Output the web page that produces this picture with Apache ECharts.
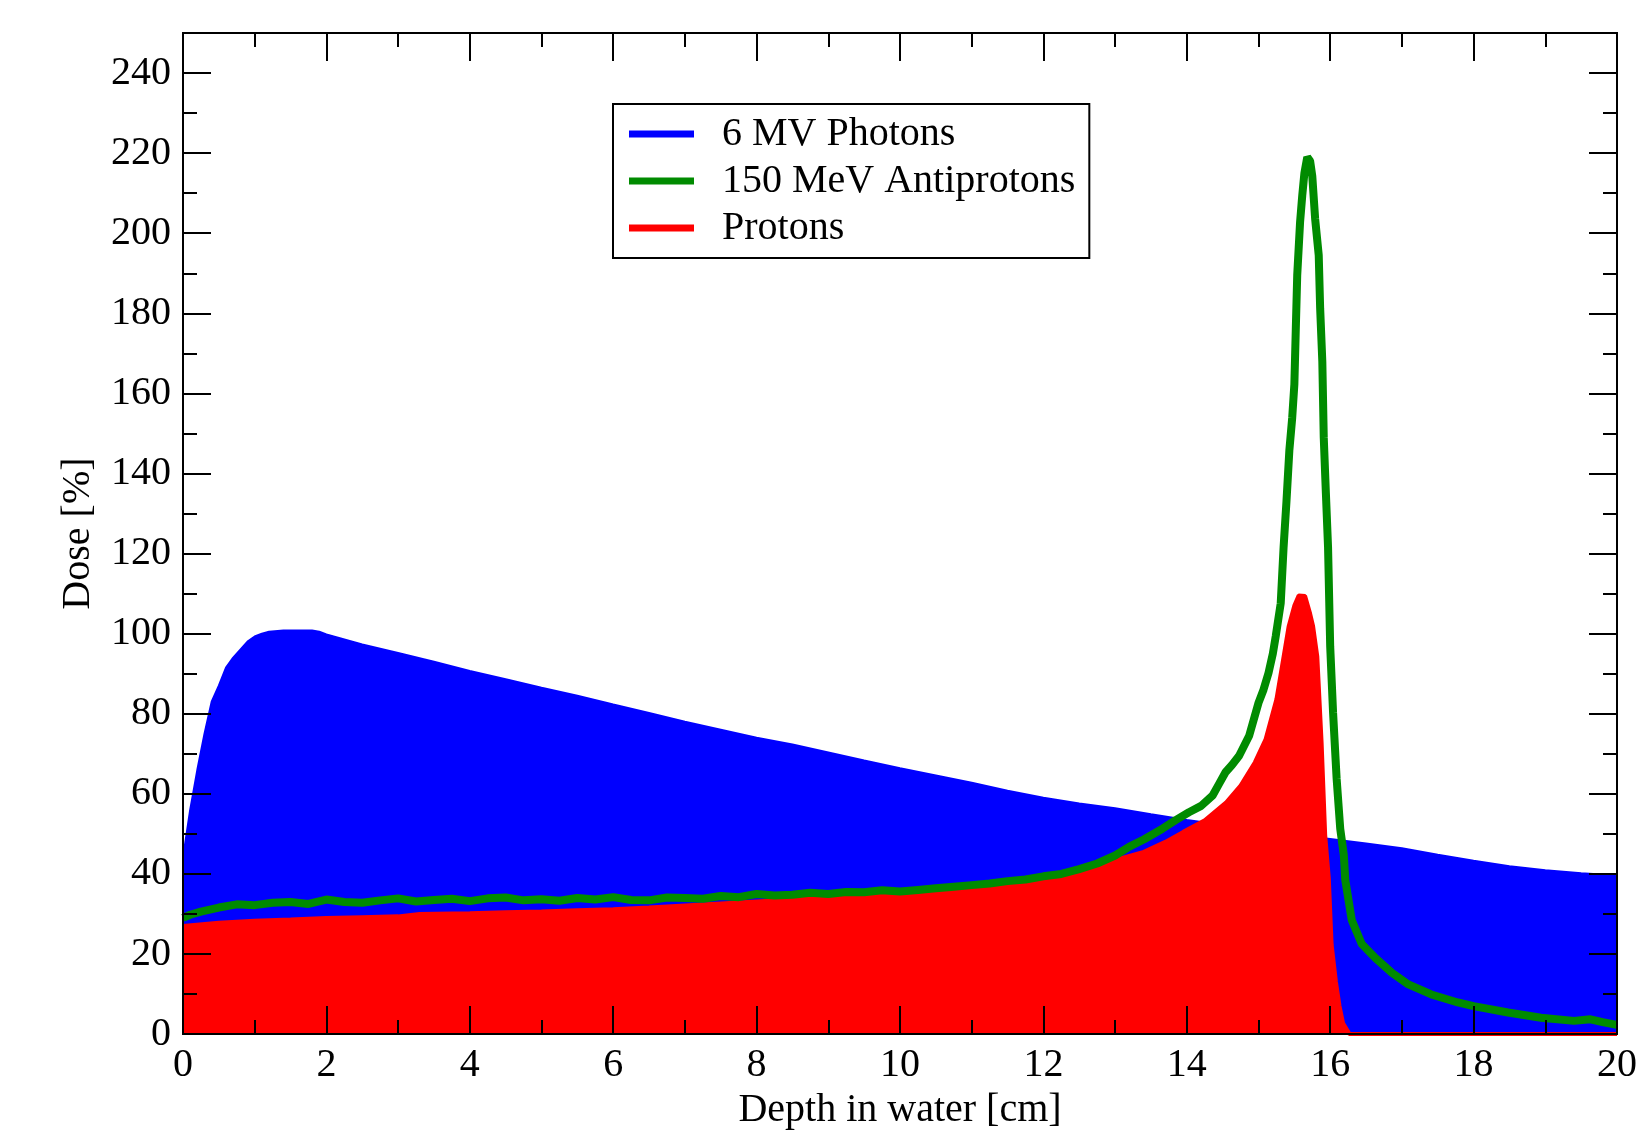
<!DOCTYPE html>
<html>
<head>
<meta charset="utf-8">
<title>Depth dose</title>
<script src="https://cdn.jsdelivr.net/npm/echarts@6/dist/echarts.min.js"></script>
<style>
  html, body { margin: 0; padding: 0; background: #fff; }
  #chart { width: 1640px; height: 1135px; }
</style>
</head>
<body>
<div id="chart"></div>
<script>
// depth in water [cm] and dose [%]
const xPhotons = [0, 0.05, 0.1, 0.2, 0.3, 0.4, 0.5, 0.6, 0.7, 0.8, 0.9, 1.0, 1.1, 1.2, 1.4, 1.6, 1.8, 1.9, 2.0,
  2.5, 3.0, 3.5, 4.0, 4.5, 5.0, 5.5, 6.0, 6.5, 7.0, 7.5, 8.0, 8.5, 9.0, 9.5, 10.0, 10.5, 11.0, 11.5, 12.0,
  12.5, 13.0, 13.5, 14.0, 14.5, 15.0, 15.5, 16.0, 16.5, 17.0, 17.5, 18.0, 18.5, 19.0, 19.5, 20.0];
const photons = [44, 50, 56, 66, 75, 83, 87, 91.5, 94, 96, 98, 99.3, 100, 100.5, 100.8, 100.8, 100.8, 100.5, 99.8,
  97.3, 95.2, 93, 90.7, 88.6, 86.5, 84.5, 82.3, 80.2, 78, 76, 74, 72.3, 70.3, 68.3, 66.4, 64.6, 62.8, 60.8, 59,
  57.6, 56.4, 54.9, 53.5, 52.2, 50.9, 49.7, 48.7, 47.6, 46.4, 44.8, 43.3, 41.9, 40.9, 40.2, 39.6];

const xProtons = [0, 0.5, 1, 1.5, 2, 2.5, 3, 3.3, 4, 4.5, 5, 5.5, 6, 6.5, 7, 7.5, 8, 8.5, 9, 9.5, 10, 10.5, 11,
  11.5, 12, 12.5, 12.75, 13, 13.4, 13.7, 13.95, 14.25, 14.55, 14.75, 14.95, 15.1, 15.25, 15.32, 15.42, 15.5,
  15.56, 15.65, 15.72, 15.76, 15.82, 15.88, 15.93, 15.98, 16.02, 16.08, 16.13, 16.18, 16.27, 20];
const protons = [27, 27.8, 28.3, 28.6, 29, 29.2, 29.4, 30, 30.2, 30.4, 30.6, 30.9, 31.2, 31.6, 32.1, 32.6, 33.1,
  33.6, 34.2, 34.8, 35.4, 36.2, 37, 38, 39.2, 41, 42.2, 43.5, 45.5, 48, 50.5, 53.4, 57.9, 62.1, 67.9, 73.7, 83.6,
  91, 101.8, 107, 109.5, 109.4, 105, 102, 94.3, 72.8, 49.7, 39, 22.3, 13, 7, 2.7, 0, 0];

const xAnti = [0, 0.1, 0.25, 0.5, 0.75, 1.0, 1.25, 1.5, 1.75, 2.0, 2.25, 2.5, 2.75, 3.0, 3.25, 3.5, 3.75, 4.0,
  4.25, 4.5, 4.75, 5.0, 5.25, 5.5, 5.75, 6.0, 6.25, 6.5, 6.75, 7.0, 7.25, 7.5, 7.75, 8.0, 8.25, 8.5, 8.75, 9.0,
  9.25, 9.5, 9.75, 10.0, 10.25, 10.5, 10.75, 11.0, 11.25, 11.5, 11.75, 12.0, 12.25, 12.5, 12.75, 13.0, 13.2,
  13.4, 13.66, 13.85, 14.03, 14.2, 14.36, 14.45, 14.54, 14.63, 14.73, 14.87, 15.0, 15.07, 15.14, 15.2, 15.24,
  15.31, 15.35, 15.39, 15.43, 15.47, 15.5, 15.52, 15.54, 15.58, 15.61, 15.64, 15.68, 15.72, 15.75, 15.79,
  15.84, 15.86, 15.89, 15.91, 15.94, 15.97, 16.0, 16.04, 16.09, 16.14, 16.19, 16.21, 16.3, 16.44, 16.63,
  16.86, 17.09, 17.41, 17.78, 18.0, 18.48, 18.94, 19.4, 19.63, 19.8, 20];
const antiprotons = [29, 29.8, 30.6, 31.6, 32.4, 32.2, 32.8, 33.0, 32.5, 33.6, 33.0, 32.8, 33.4, 33.9, 33.1,
  33.5, 33.8, 33.2, 33.9, 34.1, 33.4, 33.7, 33.3, 34.0, 33.6, 34.2, 33.5, 33.4, 34.1, 34.0, 33.8, 34.5, 34.2,
  35.0, 34.6, 34.8, 35.3, 35.0, 35.5, 35.4, 35.9, 35.6, 36.0, 36.4, 36.8, 37.2, 37.6, 38.2, 38.6, 39.4, 40.0,
  41.2, 42.6, 44.6, 46.8, 48.6, 51.3, 53.5, 55.4, 57.0, 59.6, 62.5, 65.4, 67.2, 69.5, 74.5, 82.7, 86, 90.2, 95,
  99.3, 107.6, 121.6, 133, 145.7, 153.9, 162.2, 176, 189.5, 202.8, 209.4, 215, 219, 218, 214.3, 203.6, 194.5,
  181.2, 168, 149, 135, 121.6, 96.8, 80.3, 63.7, 51.3, 44.7, 38.5, 28.5, 22.5, 19, 15.3, 12.4, 9.9, 7.9, 7.0,
  5.4, 4.1, 3.3, 3.7, 3.0, 2.3];

const seriesNames = ['6 MV Photons', '150 MeV Antiprotons', 'Protons'];

const FONT = '"Liberation Serif", "Times New Roman", serif';
const tickLine = { color: '#000', width: 2 };

function pairs(xs, ys) {
  return xs.map((x, i) => [x, ys[i]]);
}

function xAxisDef(position, withLabels) {
  return {
    type: 'value',
    position: position,
    min: 0,
    max: 20,
    interval: 2,
    z: 10,
    name: withLabels ? 'Depth in water [cm]' : '',
    nameLocation: 'middle',
    nameGap: 50,
    nameTextStyle: { fontFamily: FONT, fontSize: 40, color: '#000' },
    axisLine: { show: true, onZero: false, lineStyle: tickLine },
    axisTick: { show: true, inside: true, length: 28, lineStyle: tickLine },
    minorTick: { show: true, splitNumber: 2, length: 14, lineStyle: tickLine },
    axisLabel: {
      show: withLabels,
      margin: 11,
      fontFamily: FONT,
      fontSize: 40,
      color: '#000'
    },
    splitLine: { show: false }
  };
}

function yAxisDef(position, interval, tickLen, withLabels) {
  return {
    type: 'value',
    position: position,
    min: 0,
    max: 250,
    interval: interval,
    z: 10,
    name: withLabels ? 'Dose [%]' : '',
    nameLocation: 'middle',
    nameGap: 85,
    nameTextStyle: { fontFamily: FONT, fontSize: 40, color: '#000' },
    axisLine: { show: true, onZero: false, lineStyle: tickLine },
    axisTick: { show: true, inside: true, length: tickLen, lineStyle: tickLine },
    axisLabel: {
      show: withLabels,
      showMaxLabel: false,
      margin: 12,
      fontFamily: FONT,
      fontSize: 40,
      color: '#000'
    },
    splitLine: { show: false }
  };
}

const chart = echarts.init(document.getElementById('chart'), null, { renderer: 'canvas' });

const option = {
  animation: false,
  backgroundColor: '#fff',
  grid: { left: 183, right: 17, top: 33, bottom: 95, containLabel: false },
  legend: {
    data: seriesNames,
    orient: 'vertical',
    left: 613,
    top: 104,
    padding: [10, 14, 10, 16],
    itemGap: 7,
    itemWidth: 65,
    itemHeight: 7,
    icon: 'rect',
    borderColor: '#000',
    borderWidth: 2,
    backgroundColor: '#fff',
    selectedMode: false,
    z: 12,
    textStyle: { fontFamily: FONT, fontSize: 40, color: '#000', padding: [0, 0, 0, 23] }
  },
  xAxis: [xAxisDef('bottom', true), xAxisDef('top', false)],
  yAxis: [
    yAxisDef('left', 20, 28, true),
    yAxisDef('left', 10, 14, false),
    yAxisDef('right', 20, 28, false),
    yAxisDef('right', 10, 14, false)
  ],
  series: [
    {
      name: seriesNames[0],
      type: 'line',
      z: 2,
      data: pairs(xPhotons, photons),
      showSymbol: false,
      symbol: 'none',
      color: '#0000ff',
      lineStyle: { color: '#0000ff', width: 2 },
      areaStyle: { color: '#0000ff', opacity: 1 }
    },
    {
      name: seriesNames[2],
      type: 'line',
      z: 3,
      data: pairs(xProtons, protons),
      showSymbol: false,
      symbol: 'none',
      color: '#ff0000',
      lineStyle: { color: '#ff0000', width: 4 },
      areaStyle: { color: '#ff0000', opacity: 1 }
    },
    {
      name: seriesNames[1],
      type: 'line',
      z: 4,
      data: pairs(xAnti, antiprotons),
      showSymbol: false,
      symbol: 'none',
      color: '#008b00',
      lineStyle: { color: '#008b00', width: 8 }
    }
  ]
};

chart.setOption(option);
</script>
</body>
</html>
